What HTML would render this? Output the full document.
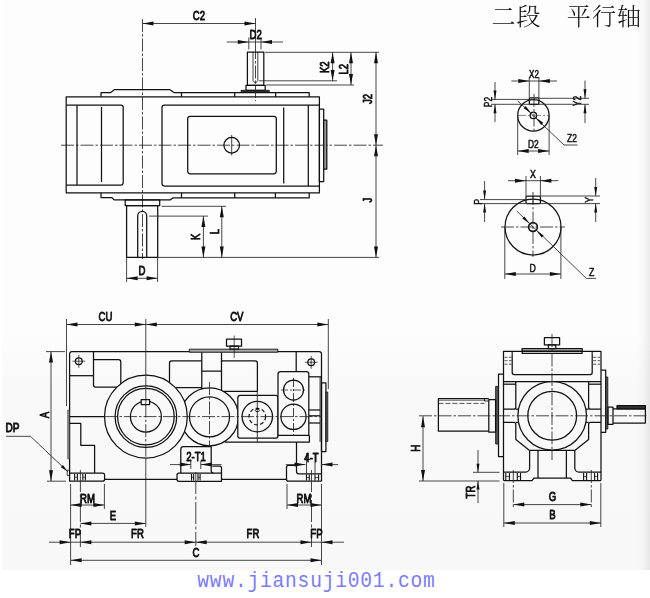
<!DOCTYPE html>
<html lang="zh">
<head>
<meta charset="utf-8">
<title>二段 平行轴</title>
<style>
html,body{margin:0;padding:0;background:#fff;}
body{width:650px;height:598px;overflow:hidden;position:relative;}
#scan{position:absolute;left:2px;top:0;width:648px;height:570px;background:linear-gradient(to right,rgba(0,0,0,0) 0,rgba(0,0,0,0) 634px,rgba(0,0,0,0.02) 641px,rgba(0,0,0,0.07) 648px),linear-gradient(to bottom,#fdfdfd 0,#fdfdfd 335px,#f9f9f9 378px,#f8f8f8 570px);}
svg{position:absolute;left:0;top:0}
#ink{filter:grayscale(1)}
svg line,svg path,svg circle,svg rect{fill:none;stroke:#111;stroke-width:1.25;stroke-linecap:butt;stroke-linejoin:round}
svg .t{stroke:#262626;stroke-width:0.85}
svg .c{stroke:#262626;stroke-width:0.85;stroke-dasharray:13 2 2.5 2}
svg .c2{stroke:#262626;stroke-width:0.85;stroke-dasharray:22 2.5 3 2.5}
svg .h{stroke:#262626;stroke-width:0.85;stroke-dasharray:3 1.6}
svg .k{stroke-width:1.4}
svg .f{fill:#f9f9f9}
svg .g{fill:#9a9a9a}
svg .d{fill:#333}
svg .ah{fill:#111;stroke:none}
svg .tx{font-family:"Liberation Sans",sans-serif;fill:#111;stroke:#111;stroke-width:0.85px;stroke-linejoin:round}
svg .ts{stroke-width:0.5px}
#title{filter:grayscale(1);position:absolute;left:491.5px;top:-1px;font-weight:300;font-family:"Liberation Serif","Noto Serif CJK SC",serif;font-size:24px;line-height:36px;color:#111;white-space:pre;letter-spacing:1.1px}
#url{font-family:"Liberation Mono",monospace;fill:#7a7afa}
</style>
</head>
<body>
<div id="scan"></div>
<div id="title">二段　平行轴</div>
<svg width="650" height="598" viewBox="0 0 650 598">
<g id="ink">
<g id="plan">
<line class="c" x1="61" y1="145.2" x2="383" y2="145.2"/>
<line class="c" x1="142.5" y1="19" x2="142.5" y2="259"/>
<rect x="66.2" y="96.9" width="253.2" height="95.9"/>
<path d="M66.2,105.2 H121 A2.2,2.2 0 0 1 123.2,107.4 V182.8 A2.2,2.2 0 0 1 121,185 H66.2"/>
<line x1="77" y1="105.2" x2="77" y2="185"/>
<line x1="101.5" y1="107" x2="101.5" y2="182"/>
<path d="M319.4,105 H164.4 A2.4,2.4 0 0 0 162,107.4 V183.6 A2.4,2.4 0 0 0 164.4,186 H319.4"/>
<line x1="308.3" y1="105" x2="308.3" y2="186"/>
<line x1="283.7" y1="107.5" x2="283.7" y2="183.4"/>
<rect x="187.7" y="116.3" width="88.6" height="57.5" rx="2.5"/>
<circle cx="231.7" cy="145.2" r="7.8"/>
<line x1="231.7" y1="135" x2="231.7" y2="155.4" style="stroke-width:0.8"/>
<rect x="319.4" y="109" width="4.3" height="72.5"/>
<rect class="g" x="323.7" y="120" width="3.1" height="49"/>
<path d="M101,96.9 V92.6 H110.8 L114.6,89.6 H169.6 L174,92.6 H309.2 V96.9"/>
<line x1="181.5" y1="92.6" x2="181.5" y2="96.9"/>
<line x1="234.7" y1="92.6" x2="234.7" y2="96.9"/>
<line x1="275.6" y1="92.6" x2="275.6" y2="96.9"/>
<path d="M101,193 V197.5 H111.7 L114.2,199.9 H170.2 L172.8,197.9 H309.2 V193"/>
<line x1="181.5" y1="193" x2="181.5" y2="197.9"/>
<line x1="234.7" y1="193" x2="234.7" y2="197.9"/>
<line x1="275.4" y1="193" x2="275.4" y2="197.9"/>
<rect x="247.4" y="52" width="16.4" height="33.3"/>
<rect x="246" y="85.3" width="19.2" height="5"/>
<rect class="d" x="241" y="90.3" width="28.3" height="1.3" style="stroke-width:0.8"/>
<path d="M253,52 V80.5 L255.4,83.5 L257.8,80.5 V52" style="stroke-width:0.8"/>
<line class="c" x1="255.5" y1="46" x2="255.5" y2="101"/>
<rect x="125.2" y="199.8" width="34.5" height="5.8"/>
<rect x="126.6" y="205.6" width="31.1" height="51.7"/>
<path d="M137.7,257.3 V215.8 A4.5,4.5 0 0 1 146.7,215.8 V257.3"/>
</g>
<g id="plandims">
<line class="t" x1="142.5" y1="23.5" x2="255.5" y2="23.5"/>
<polygon class="ah" points="142.50,23.50 153.50,21.50 153.50,25.50"/>
<polygon class="ah" points="255.50,23.50 244.50,25.50 244.50,21.50"/>
<text class="tx" transform="translate(199,20.3) scale(0.8,1)" font-size="12" text-anchor="middle">C2</text>
<line class="t" x1="255.5" y1="18" x2="255.5" y2="46"/>
<line class="t" x1="248.8" y1="37.5" x2="248.8" y2="49.5"/>
<line class="t" x1="261" y1="37.5" x2="261" y2="49.5"/>
<line class="t" x1="226.8" y1="42" x2="248.8" y2="42"/>
<polygon class="ah" points="248.80,42.00 237.80,44.00 237.80,40.00"/>
<line class="t" x1="283" y1="42" x2="261" y2="42"/>
<polygon class="ah" points="261.00,42.00 272.00,40.00 272.00,44.00"/>
<line class="t" x1="248.8" y1="42" x2="261" y2="42"/>
<text class="tx" transform="translate(255.6,39.4) scale(0.8,1)" font-size="12" text-anchor="middle">D2</text>
<line class="t" x1="265" y1="52.3" x2="379" y2="52.3"/>
<line class="t" x1="259" y1="80.8" x2="337" y2="80.8"/>
<line class="t" x1="266" y1="85" x2="354" y2="85"/>
<line class="t" x1="332.6" y1="52.3" x2="332.6" y2="80.9"/>
<polygon class="ah" points="332.60,52.30 334.60,63.30 330.60,63.30"/>
<polygon class="ah" points="332.60,80.90 330.60,69.90 334.60,69.90"/>
<line class="t" x1="351" y1="52.3" x2="351" y2="85.1"/>
<polygon class="ah" points="351.00,52.30 353.00,63.30 349.00,63.30"/>
<polygon class="ah" points="351.00,85.10 349.00,74.10 353.00,74.10"/>
<line class="t" x1="376" y1="52.3" x2="376" y2="145.2"/>
<polygon class="ah" points="376.00,52.30 378.00,63.30 374.00,63.30"/>
<polygon class="ah" points="376.00,145.20 374.00,134.20 378.00,134.20"/>
<line class="t" x1="376" y1="145.2" x2="376" y2="257.4"/>
<polygon class="ah" points="376.00,145.20 378.00,156.20 374.00,156.20"/>
<polygon class="ah" points="376.00,257.40 374.00,246.40 378.00,246.40"/>
<text class="tx" transform="translate(329.2,67.2) rotate(-90) scale(0.8,1)" font-size="12" text-anchor="middle">K2</text>
<text class="tx" transform="translate(347.5,69.2) rotate(-90) scale(0.8,1)" font-size="12" text-anchor="middle">L2</text>
<text class="tx" transform="translate(372.4,99) rotate(-90) scale(0.8,1)" font-size="12" text-anchor="middle">J2</text>
<text class="tx" transform="translate(372.4,200) rotate(-90) scale(0.8,1)" font-size="12" text-anchor="middle">J</text>
<line class="t" x1="157.6" y1="257.4" x2="379" y2="257.4"/>
<line class="t" x1="161.5" y1="206.3" x2="226" y2="206.3"/>
<line class="t" x1="149" y1="216.1" x2="208" y2="216.1"/>
<line class="t" x1="203.4" y1="216.1" x2="203.4" y2="257.4"/>
<polygon class="ah" points="203.40,216.10 205.40,227.10 201.40,227.10"/>
<polygon class="ah" points="203.40,257.40 201.40,246.40 205.40,246.40"/>
<line class="t" x1="221.8" y1="206.3" x2="221.8" y2="257.4"/>
<polygon class="ah" points="221.80,206.30 223.80,217.30 219.80,217.30"/>
<polygon class="ah" points="221.80,257.40 219.80,246.40 223.80,246.40"/>
<text class="tx" transform="translate(200.2,236.8) rotate(-90) scale(0.8,1)" font-size="12" text-anchor="middle">K</text>
<text class="tx" transform="translate(219,231.5) rotate(-90) scale(0.8,1)" font-size="12" text-anchor="middle">L</text>
<line class="t" x1="126.6" y1="257" x2="126.6" y2="282"/>
<line class="t" x1="157.6" y1="257" x2="157.6" y2="282"/>
<line class="t" x1="126.6" y1="278.3" x2="157.6" y2="278.3"/>
<polygon class="ah" points="126.60,278.30 137.60,276.30 137.60,280.30"/>
<polygon class="ah" points="157.60,278.30 146.60,280.30 146.60,276.30"/>
<text class="tx" transform="translate(142,274.6) scale(0.8,1)" font-size="12" text-anchor="middle">D</text>
</g>
<g id="sect">
<circle cx="533.4" cy="115.4" r="15.7"/>
<circle cx="533.4" cy="115.4" r="3.2" style="stroke-width:1.3"/>
<rect x="529.3" y="97.8" width="9.6" height="6.5" rx="1"/>
<line class="c" x1="534" y1="94" x2="534" y2="133"/>
<line x1="517" y1="115.4" x2="550" y2="115.4" style="stroke-width:0.7;stroke:#555;stroke-dasharray:9 2 2 2"/>
<line class="t" x1="529.3" y1="77" x2="529.3" y2="98"/>
<line class="t" x1="538.9" y1="77" x2="538.9" y2="98"/>
<line class="t" x1="511.3" y1="81" x2="529.3" y2="81"/>
<polygon class="ah" points="529.30,81.00 518.30,83.00 518.30,79.00"/>
<line class="t" x1="556.9" y1="81" x2="538.9" y2="81"/>
<polygon class="ah" points="538.90,81.00 549.90,79.00 549.90,83.00"/>
<line class="t" x1="529.3" y1="81" x2="538.9" y2="81"/>
<text class="tx ts" transform="translate(534,77.8) scale(0.8,1)" font-size="10" text-anchor="middle">X2</text>
<line class="t" x1="492" y1="99.4" x2="529.3" y2="99.4"/>
<line class="t" x1="538.9" y1="98.3" x2="589" y2="98.3"/>
<line class="t" x1="491" y1="104.3" x2="589" y2="104.3"/>
<line class="t" x1="495" y1="82" x2="495" y2="99.4"/>
<polygon class="ah" points="495.00,99.40 493.50,90.40 496.50,90.40"/>
<line class="t" x1="495" y1="122" x2="495" y2="104.3"/>
<polygon class="ah" points="495.00,104.30 496.50,113.30 493.50,113.30"/>
<text class="tx ts" transform="translate(491.5,102) rotate(-90) scale(0.8,1)" font-size="10.5" text-anchor="middle">P2</text>
<line class="t" x1="585" y1="80.5" x2="585" y2="98.3"/>
<polygon class="ah" points="585.00,98.30 583.50,89.30 586.50,89.30"/>
<line class="t" x1="585" y1="123" x2="585" y2="104.3"/>
<polygon class="ah" points="585.00,104.30 586.50,113.30 583.50,113.30"/>
<text class="tx ts" transform="translate(581.2,101) rotate(-90) scale(0.8,1)" font-size="10.5" text-anchor="middle">Y2</text>
<line class="t" x1="517.8" y1="101" x2="564" y2="145"/>
<line class="t" x1="564" y1="145" x2="577.5" y2="145"/>
<polygon class="ah" points="531.20,113.30 523.64,108.19 525.71,106.01"/>
<polygon class="ah" points="535.70,117.60 543.26,122.71 541.19,124.89"/>
<text class="tx ts" transform="translate(572,142.2) scale(0.8,1)" font-size="10.5" text-anchor="middle">Z2</text>
<line class="t" x1="517.7" y1="115.4" x2="517.7" y2="155"/>
<line class="t" x1="549.1" y1="115.4" x2="549.1" y2="155"/>
<line class="t" x1="517.7" y1="151" x2="549.1" y2="151"/>
<polygon class="ah" points="517.70,151.00 528.70,149.00 528.70,153.00"/>
<polygon class="ah" points="549.10,151.00 538.10,153.00 538.10,149.00"/>
<text class="tx ts" transform="translate(533.4,148.4) scale(0.8,1)" font-size="10.5" text-anchor="middle">D2</text>
<circle cx="533" cy="227" r="28"/>
<circle cx="533" cy="227" r="4.4" style="stroke-width:1.6"/>
<rect x="526" y="196" width="14.4" height="7.6" rx="1"/>
<line x1="533" y1="196" x2="533" y2="203.6" style="stroke-width:0.7"/>
<line class="c" x1="501" y1="227" x2="565" y2="227"/>
<line class="c" x1="533" y1="192" x2="533" y2="257"/>
<line class="t" x1="526" y1="176" x2="526" y2="196"/>
<line class="t" x1="540.4" y1="176" x2="540.4" y2="196"/>
<line class="t" x1="508" y1="180.7" x2="526" y2="180.7"/>
<polygon class="ah" points="526.00,180.70 515.00,182.70 515.00,178.70"/>
<line class="t" x1="558.4" y1="180.7" x2="540.4" y2="180.7"/>
<polygon class="ah" points="540.40,180.70 551.40,178.70 551.40,182.70"/>
<line class="t" x1="526" y1="180.7" x2="540.4" y2="180.7"/>
<text class="tx ts" transform="translate(533,178.4) scale(0.8,1)" font-size="11" text-anchor="middle">X</text>
<line class="t" x1="480" y1="199.6" x2="526" y2="199.6"/>
<line class="t" x1="540.4" y1="196" x2="600" y2="196"/>
<line class="t" x1="480" y1="203.6" x2="600" y2="203.6"/>
<line class="t" x1="484.6" y1="181" x2="484.6" y2="199.6"/>
<polygon class="ah" points="484.60,199.60 483.10,190.60 486.10,190.60"/>
<line class="t" x1="484.6" y1="222" x2="484.6" y2="203.6"/>
<polygon class="ah" points="484.60,203.60 486.10,212.60 483.10,212.60"/>
<text class="tx ts" transform="translate(482.3,201.7) rotate(-90) scale(0.8,1)" font-size="11" text-anchor="middle">P</text>
<line class="t" x1="595.7" y1="178" x2="595.7" y2="196"/>
<polygon class="ah" points="595.70,196.00 594.20,187.00 597.20,187.00"/>
<line class="t" x1="595.7" y1="222" x2="595.7" y2="203.6"/>
<polygon class="ah" points="595.70,203.60 597.20,212.60 594.20,212.60"/>
<text class="tx ts" transform="translate(592.5,199.7) rotate(-90) scale(0.8,1)" font-size="11" text-anchor="middle">Y</text>
<line class="t" x1="516.7" y1="211" x2="586.3" y2="278.4"/>
<line class="t" x1="586.3" y1="278.4" x2="596" y2="278.4"/>
<polygon class="ah" points="529.80,223.80 522.30,218.61 524.38,216.46"/>
<polygon class="ah" points="536.20,230.20 543.70,235.39 541.62,237.54"/>
<text class="tx ts" transform="translate(591.6,276.4) scale(0.8,1)" font-size="11" text-anchor="middle">Z</text>
<line class="t" x1="504.8" y1="227" x2="504.8" y2="279"/>
<line class="t" x1="560.9" y1="227" x2="560.9" y2="279"/>
<line class="t" x1="504.8" y1="274" x2="560.9" y2="274"/>
<polygon class="ah" points="504.80,274.00 515.80,272.00 515.80,276.00"/>
<polygon class="ah" points="560.90,274.00 549.90,276.00 549.90,272.00"/>
<text class="tx ts" transform="translate(532.6,272.2) scale(0.8,1)" font-size="11" text-anchor="middle">D</text>
</g>
<g id="front">
<line class="t" x1="66.5" y1="319" x2="66.5" y2="406"/>
<line class="t" x1="328.3" y1="319" x2="328.3" y2="389"/>
<path d="M69.6,473 V354 A2.3,2.3 0 0 1 71.9,351.7 H319.1 A2.4,2.4 0 0 1 321.5,354.1 V481.2"/>
<rect x="67.7" y="410" width="1.6" height="48.8" style="stroke-width:0.6;fill:#999;stroke:#333"/>
<path d="M69.6,375.7 H93.5"/>
<path d="M93.5,351.7 V385 A2,2 0 0 0 95.5,387 H118"/>
<path d="M93.5,359.7 H118.6 A2.2,2.2 0 0 1 120.8,361.9 V385"/>
<circle cx="78.8" cy="361.2" r="3.4"/>
<line x1="72.5" y1="361.2" x2="85.2" y2="361.2" style="stroke-width:0.7"/>
<line x1="78.8" y1="354.8" x2="78.8" y2="367.8" style="stroke-width:0.7"/>
<line x1="69.6" y1="416.5" x2="105" y2="416.5"/>
<path d="M69.6,423.4 H80.8 V445.4 H94.6 V473"/>
<path d="M69.6,473 H102.6 A2,2 0 0 1 104.6,475 V479.2 A2,2 0 0 1 102.6,481.2 H69.6 V473"/>
<path d="M169.5,385 V363 A2.2,2.2 0 0 1 171.7,360.8 H201.8"/>
<path d="M172,387.6 H201.8"/>
<path d="M201.8,352.3 V390 M221.5,352.3 V391.5 M201.8,371.2 H221.5"/>
<path d="M221.5,360.8 H255.2 A2.2,2.2 0 0 1 257.4,363 V391.3 H222"/>
<rect class="g" x="189.3" y="349.2" width="88.5" height="3" style="fill:#aaa;stroke-width:0.9"/>
<rect x="226.5" y="339" width="15" height="7.2"/>
<rect x="230" y="346.2" width="8.5" height="3"/>
<line x1="234.2" y1="335.5" x2="234.2" y2="358" style="stroke-width:0.7"/>
<path d="M296.2,351.7 V371.5"/>
<path d="M308.8,376.8 H321.5"/>
<circle cx="311.2" cy="362.3" r="3.4"/>
<line x1="305" y1="362.3" x2="317.6" y2="362.3" style="stroke-width:0.7"/>
<line x1="311.2" y1="356" x2="311.2" y2="368.8" style="stroke-width:0.7"/>
<line x1="320.1" y1="377" x2="320.1" y2="441.8" style="stroke-width:0.9"/>
<line x1="308.8" y1="410" x2="320.1" y2="410"/>
<line x1="308.8" y1="415.8" x2="320.1" y2="415.8"/>
<line x1="308.8" y1="423" x2="320.1" y2="423"/>
<rect x="321.5" y="382.8" width="4.4" height="68.7"/>
<rect x="325.9" y="392" width="1.9" height="49.5" style="stroke-width:0.7;fill:#555"/>
<circle class="f" cx="209.5" cy="416.8" r="29"/>
<circle cx="209.5" cy="416.8" r="20"/>
<path d="M225,442 H309.4 V435.4"/>
<rect class="f" x="237.8" y="395.4" width="40.2" height="42.8" rx="2.5"/>
<circle cx="257.3" cy="416.6" r="15.2"/>
<circle cx="257.3" cy="416.6" r="8.3" style="stroke-width:1.2;stroke-dasharray:3.8 2.4"/>
<ellipse cx="257.3" cy="410.4" rx="2" ry="1.3" style="fill:none;stroke:#111;stroke-width:0.9"/>
<line x1="257.3" y1="391.3" x2="257.3" y2="442" style="stroke-width:0.8"/>
<path class="f" d="M278,435.4 V374 A2.5,2.5 0 0 1 280.5,371.5 H306.3 A2.5,2.5 0 0 1 308.8,374 V435.4 Z"/>
<circle cx="293.5" cy="390" r="10"/>
<circle cx="293.5" cy="416.8" r="12.6"/>
<line x1="293.5" y1="378" x2="293.5" y2="437" style="stroke-width:0.8;stroke-dasharray:9 2 2 2"/>
<line x1="281" y1="390" x2="306" y2="390" style="stroke-width:0.7;stroke-dasharray:7 2 2 2"/>
<circle class="f" cx="145.9" cy="416.6" r="41.4"/>
<circle cx="145.9" cy="416.6" r="30.8"/>
<circle cx="145.9" cy="416.6" r="28.3"/>
<circle cx="145.9" cy="416.6" r="15.5"/>
<rect class="f" x="141.2" y="399.6" width="8.4" height="5"/>
<line x1="145.8" y1="399.6" x2="145.8" y2="404.6" style="stroke-width:0.7"/>
<line class="c" x1="104.5" y1="416.6" x2="322" y2="416.6"/>
<line class="t" x1="145.8" y1="319" x2="145.8" y2="399.6"/>
<line class="c" x1="145.8" y1="404.6" x2="145.8" y2="458"/>
<line class="t" x1="145.8" y1="458" x2="145.8" y2="527"/>
<line class="c" x1="209.5" y1="382" x2="209.5" y2="446.5"/>
<path d="M180.8,473 V449 A2.5,2.5 0 0 1 183.3,446.5 H211.2 V470.8 A2.2,2.2 0 0 0 213.4,473"/>
<path d="M212.3,466 H219.5 A2,2 0 0 1 221.5,468 V481.3 H179 A2,2 0 0 1 177,479.3 V475 A2,2 0 0 1 179,473 H221.5"/>
<path d="M296.5,442 V471.4 A2.4,2.4 0 0 0 298.9,473.8 H321.5"/>
<path d="M296.5,465.4 H288.5 A2,2 0 0 0 286.5,467.4 V479.2 A2,2 0 0 0 288.5,481.2 H321.5"/>
<line class="k" x1="104.6" y1="479.4" x2="177" y2="479.4"/>
<line class="k" x1="221.5" y1="479.4" x2="286.5" y2="479.4"/>
<line x1="74.6" y1="474" x2="74.6" y2="480.6" style="stroke-width:1.1"/>
<line x1="77.4" y1="474" x2="77.4" y2="480.6" style="stroke-width:1.1"/>
<line x1="82.8" y1="474" x2="82.8" y2="480.6" style="stroke-width:1.1"/>
<line x1="85.4" y1="474" x2="85.4" y2="480.6" style="stroke-width:1.1"/>
<line x1="74.6" y1="477.3" x2="77.4" y2="477.3" style="stroke-width:0.7"/>
<line x1="82.8" y1="477.3" x2="85.4" y2="477.3" style="stroke-width:0.7"/>
<line x1="191.5" y1="474" x2="191.5" y2="480.6" style="stroke-width:1.1"/>
<line x1="193.6" y1="474" x2="193.6" y2="480.6" style="stroke-width:1.1"/>
<line x1="198" y1="474" x2="198" y2="480.6" style="stroke-width:1.1"/>
<line x1="200.1" y1="474" x2="200.1" y2="480.6" style="stroke-width:1.1"/>
<line x1="191.5" y1="477.3" x2="193.6" y2="477.3" style="stroke-width:0.7"/>
<line x1="198" y1="477.3" x2="200.1" y2="477.3" style="stroke-width:0.7"/>
<line x1="306.5" y1="474.4" x2="306.5" y2="480.6" style="stroke-width:1.1"/>
<line x1="309.3" y1="474.4" x2="309.3" y2="480.6" style="stroke-width:1.1"/>
<line x1="315" y1="474.4" x2="315" y2="480.6" style="stroke-width:1.1"/>
<line x1="318.6" y1="474.4" x2="318.6" y2="480.6" style="stroke-width:1.1"/>
<line x1="306.5" y1="477.5" x2="309.3" y2="477.5" style="stroke-width:0.7"/>
<line x1="315" y1="477.5" x2="318.6" y2="477.5" style="stroke-width:0.7"/>
<rect x="67.2" y="470.2" width="2.4" height="5.2" style="stroke-width:0.8"/>
</g>
<g id="frontdims">
<line class="t" x1="66.5" y1="324.5" x2="145.8" y2="324.5"/>
<polygon class="ah" points="66.50,324.50 77.50,322.50 77.50,326.50"/>
<polygon class="ah" points="145.80,324.50 134.80,326.50 134.80,322.50"/>
<line class="t" x1="145.8" y1="324.5" x2="328.3" y2="324.5"/>
<polygon class="ah" points="145.80,324.50 156.80,322.50 156.80,326.50"/>
<polygon class="ah" points="328.30,324.50 317.30,326.50 317.30,322.50"/>
<text class="tx" transform="translate(105.5,320.8) scale(0.8,1)" font-size="12" text-anchor="middle">CU</text>
<text class="tx" transform="translate(236.8,320.8) scale(0.8,1)" font-size="12" text-anchor="middle">CV</text>
<line class="t" x1="46" y1="351.6" x2="65" y2="351.6"/>
<line class="t" x1="47" y1="481.2" x2="66" y2="481.2"/>
<line class="t" x1="51" y1="351.6" x2="51" y2="481.2"/>
<polygon class="ah" points="51.00,351.60 53.00,362.60 49.00,362.60"/>
<polygon class="ah" points="51.00,481.20 49.00,470.20 53.00,470.20"/>
<text class="tx" transform="translate(49,415) rotate(-90) scale(0.8,1)" font-size="12" text-anchor="middle">A</text>
<text class="tx" transform="translate(12.4,432.2) scale(0.84,1)" font-size="12" text-anchor="middle">DP</text>
<line class="t" x1="6" y1="436.3" x2="30.5" y2="436.3"/>
<line class="t" x1="30.5" y1="436.3" x2="67.7" y2="471.6"/>
<polygon class="ah" points="67.70,471.60 60.87,467.18 62.93,465.00"/>
<line class="t" x1="170" y1="464.6" x2="190.8" y2="464.6"/>
<polygon class="ah" points="190.80,464.60 179.80,466.60 179.80,462.60"/>
<line class="t" x1="221.5" y1="464.6" x2="200.8" y2="464.6"/>
<polygon class="ah" points="200.80,464.60 211.80,462.60 211.80,466.60"/>
<line class="t" x1="190.8" y1="460.5" x2="190.8" y2="469"/>
<line class="t" x1="200.8" y1="460.5" x2="200.8" y2="469"/>
<text class="tx" transform="translate(196,460.8) scale(0.8,1)" font-size="12" text-anchor="middle">2-T1</text>
<line class="t" x1="285.8" y1="464.6" x2="305.5" y2="464.6"/>
<polygon class="ah" points="305.50,464.60 294.50,466.60 294.50,462.60"/>
<line class="t" x1="338" y1="464.6" x2="321" y2="464.6"/>
<polygon class="ah" points="321.50,464.60 332.50,462.60 332.50,466.60"/>
<line class="t" x1="306.5" y1="453" x2="306.5" y2="473"/>
<line class="t" x1="315" y1="453" x2="315" y2="473"/>
<text class="tx" transform="translate(311.5,461.5) scale(0.8,1)" font-size="12" text-anchor="middle">4-T</text>
<line class="t" x1="70.6" y1="484" x2="70.6" y2="565"/>
<line class="t" x1="321.5" y1="484" x2="321.5" y2="565"/>
<line class="c2" x1="80.4" y1="470" x2="80.4" y2="547"/>
<line class="c2" x1="195.8" y1="472" x2="195.8" y2="547"/>
<line class="c2" x1="311.5" y1="470" x2="311.5" y2="547"/>
<line class="t" x1="104.4" y1="484" x2="104.4" y2="509"/>
<line class="t" x1="287" y1="484" x2="287" y2="509"/>
<line class="t" x1="70.6" y1="505" x2="104.4" y2="505"/>
<polygon class="ah" points="70.60,505.00 81.60,503.00 81.60,507.00"/>
<polygon class="ah" points="104.40,505.00 93.40,507.00 93.40,503.00"/>
<text class="tx" transform="translate(87.5,502.6) scale(0.8,1)" font-size="12" text-anchor="middle">RM</text>
<line class="t" x1="287" y1="505" x2="321.5" y2="505"/>
<polygon class="ah" points="287.00,505.00 298.00,503.00 298.00,507.00"/>
<polygon class="ah" points="321.50,505.00 310.50,507.00 310.50,503.00"/>
<text class="tx" transform="translate(304,502.6) scale(0.8,1)" font-size="12" text-anchor="middle">RM</text>
<line class="t" x1="80.4" y1="523.4" x2="145.8" y2="523.4"/>
<polygon class="ah" points="80.40,523.40 91.40,521.40 91.40,525.40"/>
<polygon class="ah" points="145.80,523.40 134.80,525.40 134.80,521.40"/>
<text class="tx" transform="translate(113,520.3) scale(0.8,1)" font-size="12" text-anchor="middle">E</text>
<line class="t" x1="49" y1="542.2" x2="344" y2="542.2"/>
<polygon class="ah" points="70.60,542.20 59.60,544.20 59.60,540.20"/>
<polygon class="ah" points="80.40,542.20 91.40,540.20 91.40,544.20"/>
<polygon class="ah" points="195.70,542.20 184.70,544.20 184.70,540.20"/>
<polygon class="ah" points="195.70,542.20 206.70,540.20 206.70,544.20"/>
<polygon class="ah" points="311.50,542.20 300.50,544.20 300.50,540.20"/>
<polygon class="ah" points="321.50,542.20 332.50,540.20 332.50,544.20"/>
<text class="tx" transform="translate(75,538.2) scale(0.8,1)" font-size="12" text-anchor="middle">FP</text>
<text class="tx" transform="translate(137.5,538.2) scale(0.8,1)" font-size="12" text-anchor="middle">FR</text>
<text class="tx" transform="translate(253,538.2) scale(0.8,1)" font-size="12" text-anchor="middle">FR</text>
<text class="tx" transform="translate(316.5,538.2) scale(0.8,1)" font-size="12" text-anchor="middle">FP</text>
<line class="t" x1="70.6" y1="560.3" x2="321.5" y2="560.3"/>
<polygon class="ah" points="70.60,560.30 81.60,558.30 81.60,562.30"/>
<polygon class="ah" points="321.50,560.30 310.50,562.30 310.50,558.30"/>
<rect x="190" y="546" width="12" height="12" style="fill:#f9f9f9;stroke:none"/>
<text class="tx" transform="translate(196,557) scale(0.8,1)" font-size="12" text-anchor="middle">C</text>
</g>
<g id="side">
<path d="M503.5,480.6 V351.3 H601 V480.6"/>
<path d="M512.2,353.4 V372.6 A2,2 0 0 0 514.2,374.6 H590.2 A2,2 0 0 0 592.2,372.6 V353.4"/>
<line x1="512.2" y1="351.3" x2="512.2" y2="353.4"/>
<line x1="592.2" y1="351.3" x2="592.2" y2="353.4"/>
<line x1="504.5" y1="357.3" x2="511.5" y2="357.3" style="stroke-width:0.7;stroke-dasharray:3 1.5"/>
<line x1="593.2" y1="357.3" x2="600" y2="357.3" style="stroke-width:0.7;stroke-dasharray:3 1.5"/>
<line x1="504.5" y1="360.7" x2="511.5" y2="360.7" style="stroke-width:0.7;stroke-dasharray:3 1.5"/>
<line x1="593.2" y1="360.7" x2="600" y2="360.7" style="stroke-width:0.7;stroke-dasharray:3 1.5"/>
<line x1="504.5" y1="364.2" x2="511.5" y2="364.2" style="stroke-width:0.7;stroke-dasharray:3 1.5"/>
<line x1="593.2" y1="364.2" x2="600" y2="364.2" style="stroke-width:0.7;stroke-dasharray:3 1.5"/>
<rect x="522.2" y="348.5" width="59.9" height="4.9"/>
<rect class="g" x="522.2" y="348.5" width="59.9" height="2.5" style="stroke-width:1"/>
<rect x="544.4" y="337.7" width="15.2" height="7.2"/>
<rect x="548.3" y="344.9" width="7.5" height="3.6"/>
<path d="M503.5,374.2 H498.5 V456.5 H503.5"/>
<rect x="495.6" y="386.5" width="2.9" height="57.5" style="stroke-width:0.8;fill:#555"/>
<path d="M601,370 H605.7 V432.3 H601"/>
<rect x="605.7" y="377" width="2.1" height="52" style="stroke-width:0.8;fill:#555"/>
<rect x="488.8" y="399.7" width="6.8" height="32.5"/>
<path d="M488.8,398.6 H438.4 V431.2 H488.8"/>
<line x1="438.4" y1="403.4" x2="484.5" y2="403.4" style="stroke-width:0.7;stroke-dasharray:5 2"/>
<line x1="438.4" y1="400.3" x2="484.5" y2="400.3" style="stroke-width:0.6"/>
<path d="M484.5,398.6 V401 H488.8" style="stroke-width:0.9"/>
<rect x="608" y="407.2" width="5" height="17.1"/>
<path d="M613,408.8 H645.4 V423 H613"/>
<rect class="d" x="617" y="405.6" width="28.4" height="3.2"/>
<line x1="503.5" y1="381.5" x2="601" y2="381.5"/>
<line x1="503.5" y1="384.2" x2="515.8" y2="384.2"/>
<line x1="588.6" y1="384.2" x2="601" y2="384.2"/>
<path d="M515.8,381.5 V407.2 A2,2 0 0 1 513.8,409.2 H503.5"/>
<path d="M503.5,422.4 H513.8 A2,2 0 0 1 515.8,424.4 V439.6 L529.6,450.4"/>
<path d="M588.6,381.5 V407.2 A2,2 0 0 0 590.6,409.2 H601"/>
<path d="M601,422.4 H590.6 A2,2 0 0 0 588.6,424.4 V439.6 L574.8,450.4"/>
<circle class="f" cx="552.2" cy="415.8" r="34.3"/>
<circle cx="552.2" cy="415.8" r="24.4"/>
<line x1="515.8" y1="409.2" x2="518.6" y2="409.2"/>
<line x1="515.8" y1="422.4" x2="518.6" y2="422.4"/>
<line x1="585.8" y1="409.2" x2="588.6" y2="409.2"/>
<line x1="585.8" y1="422.4" x2="588.6" y2="422.4"/>
<line x1="529.6" y1="450.4" x2="574.8" y2="450.4"/>
<path d="M529.6,450.4 V468 A4,4 0 0 1 525.6,472 H503.5"/>
<path d="M574.8,450.4 V468 A4,4 0 0 0 578.8,472 H601"/>
<line x1="538" y1="450.4" x2="538" y2="478"/>
<line x1="566.4" y1="450.4" x2="566.4" y2="478"/>
<path d="M503.5,480.6 H532 L534,478 H570.4 L572.4,480.6 H601"/>
<line x1="505.8" y1="473" x2="505.8" y2="480" style="stroke-width:1.1"/>
<line x1="509.4" y1="473" x2="509.4" y2="480" style="stroke-width:1.1"/>
<line x1="505.8" y1="476.5" x2="509.4" y2="476.5" style="stroke-width:0.7"/>
<line x1="517.3" y1="473" x2="517.3" y2="480" style="stroke-width:1.1"/>
<line x1="520.5" y1="473" x2="520.5" y2="480" style="stroke-width:1.1"/>
<line x1="517.3" y1="476.5" x2="520.5" y2="476.5" style="stroke-width:0.7"/>
<line x1="583.6" y1="473" x2="583.6" y2="480" style="stroke-width:1.1"/>
<line x1="586.6" y1="473" x2="586.6" y2="480" style="stroke-width:1.1"/>
<line x1="583.6" y1="476.5" x2="586.6" y2="476.5" style="stroke-width:0.7"/>
<line x1="594.6" y1="473" x2="594.6" y2="480" style="stroke-width:1.1"/>
<line x1="597.6" y1="473" x2="597.6" y2="480" style="stroke-width:1.1"/>
<line x1="594.6" y1="476.5" x2="597.6" y2="476.5" style="stroke-width:0.7"/>
<line class="c" x1="419" y1="415.8" x2="648" y2="415.8"/>
<line class="c" x1="552" y1="334" x2="552" y2="460"/>
</g>
<g id="sidedims">
<line class="t" x1="419" y1="481" x2="499.5" y2="481"/>
<line class="t" x1="423" y1="416.2" x2="423" y2="481"/>
<polygon class="ah" points="423.00,416.20 425.00,427.20 421.00,427.20"/>
<polygon class="ah" points="423.00,481.00 421.00,470.00 425.00,470.00"/>
<text class="tx" transform="translate(420,448.2) rotate(-90) scale(0.8,1)" font-size="12" text-anchor="middle">H</text>
<line class="t" x1="473" y1="472.3" x2="499.5" y2="472.3"/>
<line class="t" x1="478" y1="450" x2="478" y2="472.3"/>
<polygon class="ah" points="478.00,472.30 476.50,463.80 479.50,463.80"/>
<line class="t" x1="478" y1="503" x2="478" y2="481"/>
<polygon class="ah" points="478.00,481.00 479.50,489.50 476.50,489.50"/>
<text class="tx" transform="translate(475,492) rotate(-90) scale(0.8,1)" font-size="12" text-anchor="middle">TR</text>
<line class="t" x1="503.8" y1="483" x2="503.8" y2="527"/>
<line class="t" x1="600.8" y1="483" x2="600.8" y2="527"/>
<line class="c" x1="513.3" y1="470" x2="513.3" y2="509"/>
<line class="c" x1="591.3" y1="470" x2="591.3" y2="509"/>
<line class="t" x1="513.3" y1="504.6" x2="591.3" y2="504.6"/>
<polygon class="ah" points="513.30,504.60 524.30,502.60 524.30,506.60"/>
<polygon class="ah" points="591.30,504.60 580.30,506.60 580.30,502.60"/>
<text class="tx" transform="translate(552.5,501) scale(0.8,1)" font-size="12" text-anchor="middle">G</text>
<line class="t" x1="503.8" y1="523" x2="600.8" y2="523"/>
<polygon class="ah" points="503.80,523.00 514.80,521.00 514.80,525.00"/>
<polygon class="ah" points="600.80,523.00 589.80,525.00 589.80,521.00"/>
<text class="tx" transform="translate(552.5,519.4) scale(0.8,1)" font-size="12" text-anchor="middle">B</text>
</g>
</g>
<text id="url" transform="translate(197.3,587) scale(1,1.1)" font-size="19.6" textLength="237.5" lengthAdjust="spacing">www.jiansuji001.com</text>
</svg>
</body>
</html>
